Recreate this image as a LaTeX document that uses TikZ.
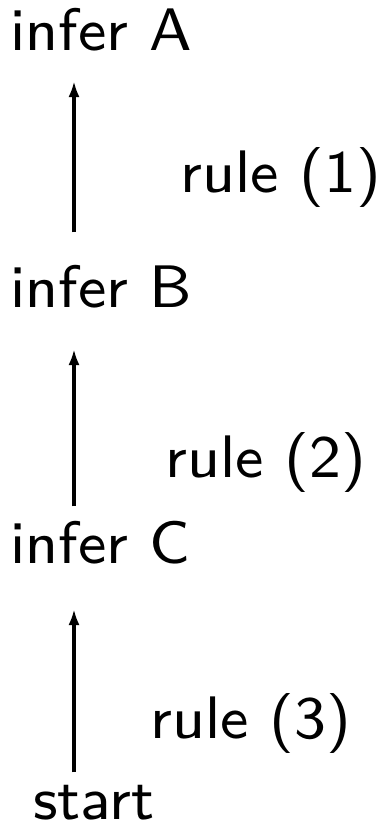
\documentclass[tikz,border=0pt]{standalone}
\usetikzlibrary{arrows.meta}
\font\slidesans="[lmsans8-regular.otf]" at 30pt
\tikzset{
  stepnode/.style = {font=\slidesans, inner sep=0pt, anchor=base west},
  rulenode/.style = {font=\slidesans, inner sep=0pt, anchor=base west},
  derive/.style   = {-{Latex[length=8pt, width=5.5pt]}, line width=2pt},
}

\begin{document}
\begin{tikzpicture}[x=0.5pt, y=-0.5pt]
  \useasboundingbox (0,0) rectangle (388,825);

  % ── steps of the derivation ──
  \node[stepnode] (infA)  at (10, 50)  {infer A};
  \node[stepnode] (infB)  at (10, 307) {infer B};
  \node[stepnode] (infC)  at (10, 563) {infer C};
  \node[stepnode] (start) at (33, 819) {start};

  % ── rule labels ──
  \node[rulenode] (rule1) at (180, 192) {rule (1)};
  \node[rulenode] (rule2) at (165, 477) {rule (2)};
  \node[rulenode] (rule3) at (150, 738) {rule (3)};

  % ── arrows, all on one vertical axis ──
  \coordinate (axis) at (74, 0);
  \draw[derive, shorten <=16pt, shorten >=15pt]
    (infB.north -| axis) -- (infA.south -| axis);
  \draw[derive, shorten <=7pt, shorten >=20.5pt]
    (infC.north -| axis) -- (infB.south -| axis);
  \draw[derive, shorten <=6pt, shorten >=22.5pt]
    (start.north -| axis) -- (infC.south -| axis);

\end{tikzpicture}
\end{document}
